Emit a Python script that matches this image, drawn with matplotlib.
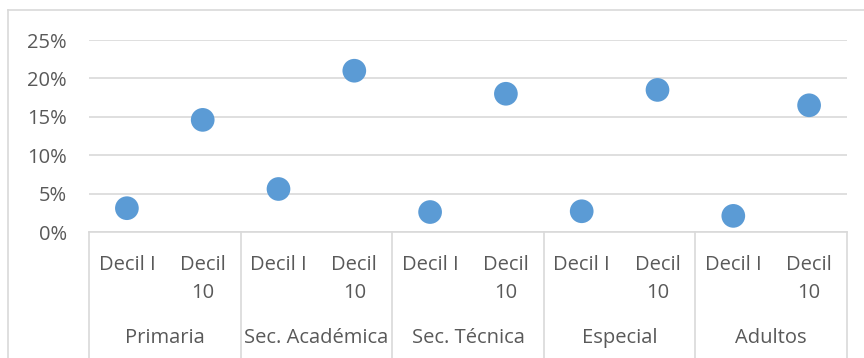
import matplotlib
matplotlib.use("Agg")
import matplotlib.pyplot as plt
from matplotlib.ticker import PercentFormatter

groups = ["Primaria", "Sec. Académica", "Sec. Técnica", "Especial", "Adultos"]
deciles = ["Decil I", "Decil\n10"]
values = [0.031, 0.146, 0.056, 0.210, 0.026, 0.180, 0.027, 0.185, 0.021, 0.165]
yticks = [0.0, 0.05, 0.10, 0.15, 0.20, 0.25]

W, H = 864, 358
FONT = "Open Sans"
FS = 14.5
TXT = "#595959"
GRID = "#d9d9d9"
BLUE = "#5b9bd5"

fig = plt.figure(figsize=(W / 100, H / 100), dpi=100)
fig.patch.set_facecolor("white")

# outer chart frame (top and left edges)
fig.add_artist(plt.Line2D([8 / W, 8 / W], [0, 1 - 10 / H], color=GRID, lw=1.2))
fig.add_artist(plt.Line2D([8 / W, 1], [1 - 10 / H, 1 - 10 / H], color=GRID, lw=1.2))

x0, x1, y0, y1 = 89, 847, 232, 40
ax = fig.add_axes([x0 / W, 1 - y0 / H, (x1 - x0) / W, (y0 - y1) / H])
n = len(values)
xs = list(range(n))
ax.set_xlim(-0.5, n - 0.5)
ax.set_ylim(0, 0.25)
ax.set_yticks(yticks)
ax.yaxis.set_major_formatter(PercentFormatter(1.0, decimals=0))
for s in ax.spines.values():
    s.set_visible(False)
ax.tick_params(axis="y", length=0, pad=16, labelsize=FS, labelcolor=TXT)
for lab in ax.get_yticklabels():
    lab.set_fontfamily(FONT)
ax.set_xticks([])
ax.grid(axis="y", color=GRID, lw=1.2)
ax.set_axisbelow(True)

ax.scatter(xs, values, s=23 ** 2 * 0.55, color=BLUE, zorder=3, clip_on=False, edgecolors="none")

# category axis: baseline, group separators and two label rows
trans = ax.get_xaxis_transform()
hpx = y0 - y1
def fy(py):
    return (y0 - py) / hpx

ax.plot([-0.5, n - 0.5], [0, 0], transform=trans, color=GRID, lw=1.2, clip_on=False)
for b in range(len(groups) + 1):
    xb = b * 2 - 0.5
    ax.plot([xb, xb], [0, fy(H + 5)], transform=trans, color=GRID, lw=1.2, clip_on=False)

for i in xs:
    for k, line in enumerate(deciles[i % 2].split("\n")):
        ax.text(i, fy(265 + 28 * k), line, transform=trans, ha="center", va="center",
                fontsize=FS, color=TXT, family=FONT)
for g, name in enumerate(groups):
    ax.text(g * 2 + 0.5, fy(338), name, transform=trans, ha="center", va="center",
            fontsize=FS, color=TXT, family=FONT)

fig.savefig("out.png", dpi=100, facecolor="white")
